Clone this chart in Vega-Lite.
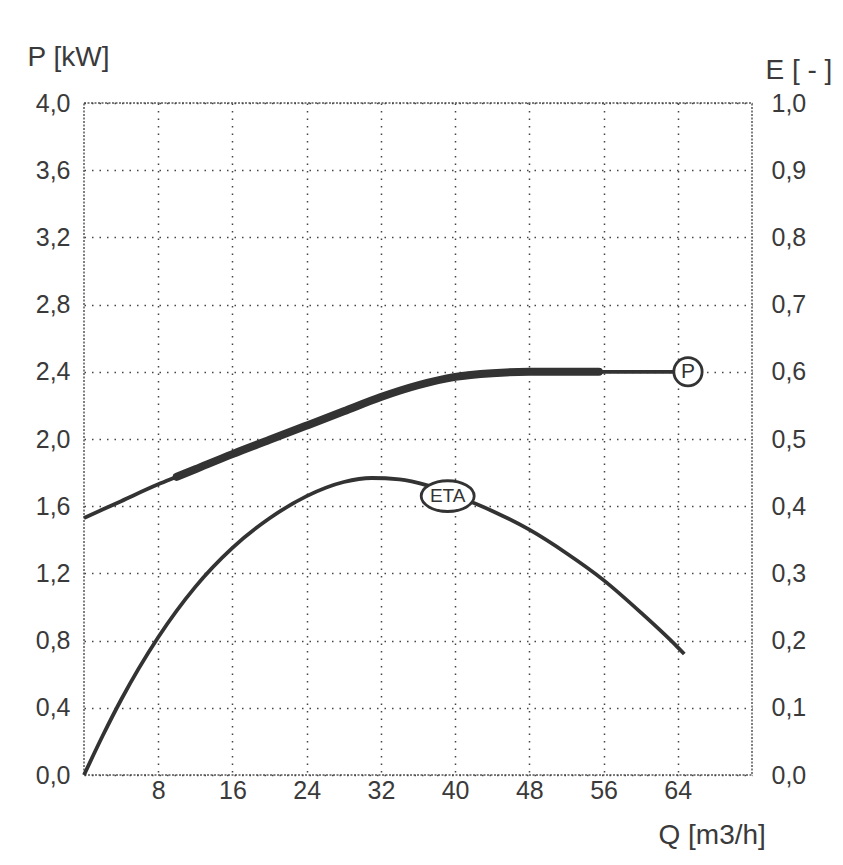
{
  "$schema": "https://vega.github.io/schema/vega-lite/v6.json",
  "width": 668,
  "height": 672,
  "autosize": {"type": "none"},
  "padding": {"left": 84, "top": 103, "right": 91, "bottom": 90},
  "background": "white",
  "config": {
    "view": {"stroke": "#555", "strokeWidth": 1.5, "strokeDash": [2, 1.5]},
    "axis": {
      "labelFont": "Liberation Sans",
      "titleFont": "Liberation Sans",
      "labelFontSize": 25,
      "titleFontSize": 28,
      "labelColor": "#3a3a3a",
      "titleColor": "#3a3a3a",
      "titleFontWeight": "normal",
      "ticks": false,
      "domain": false,
      "gridColor": "#444",
      "gridDash": [1.5, 6],
      "gridWidth": 1.5,
      "gridOpacity": 1,
      "labelFlush": false,
      "labelOverlap": false
    }
  },
  "datasets": {
    "power": [
      {"Q": 0, "P": 1.53},
      {"Q": 4, "P": 1.63},
      {"Q": 8, "P": 1.73},
      {"Q": 10, "P": 1.775},
      {"Q": 12, "P": 1.82},
      {"Q": 16, "P": 1.91},
      {"Q": 20, "P": 1.995},
      {"Q": 24, "P": 2.08},
      {"Q": 28, "P": 2.165},
      {"Q": 32, "P": 2.25},
      {"Q": 36, "P": 2.32},
      {"Q": 40, "P": 2.37},
      {"Q": 44, "P": 2.392},
      {"Q": 48, "P": 2.4},
      {"Q": 52, "P": 2.4},
      {"Q": 55.5, "P": 2.4},
      {"Q": 60, "P": 2.4},
      {"Q": 65.1, "P": 2.4}
    ],
    "eta": [
      {"Q": 0, "E": 0},
      {"Q": 2, "E": 0.058},
      {"Q": 4, "E": 0.112},
      {"Q": 8, "E": 0.205},
      {"Q": 12, "E": 0.28},
      {"Q": 16, "E": 0.338},
      {"Q": 20, "E": 0.382},
      {"Q": 24, "E": 0.415},
      {"Q": 28, "E": 0.436},
      {"Q": 31, "E": 0.442},
      {"Q": 34, "E": 0.44},
      {"Q": 37, "E": 0.431},
      {"Q": 40, "E": 0.416},
      {"Q": 44, "E": 0.393},
      {"Q": 48, "E": 0.365},
      {"Q": 52, "E": 0.33},
      {"Q": 56, "E": 0.29},
      {"Q": 60, "E": 0.242},
      {"Q": 64, "E": 0.19},
      {"Q": 64.7, "E": 0.18}
    ],
    "pmark": [{"Q": 65.1, "P": 2.4, "label": "P"}],
    "emark": [{"Q": 39.2, "E": 0.415, "label": "ETA"}]
  },
  "layer": [
    {
      "encoding": {
        "x": {
          "field": "Q", "type": "quantitative",
          "scale": {"domain": [0, 72], "nice": false},
          "axis": {
            "orient": "bottom",
            "values": [8, 16, 24, 32, 40, 48, 56, 64],
            "grid": true,
            "labelPadding": 3,
            "title": "Q [m3/h]",
            "titleAngle": 0,
            "titleAlign": "left",
            "titleBaseline": "middle",
            "titleX": 574,
            "titleY": 60
          }
        },
        "y": {
          "field": "P", "type": "quantitative",
          "scale": {"domain": [0, 4], "nice": false},
          "axis": {
            "orient": "left",
            "values": [0, 0.4, 0.8, 1.2, 1.6, 2.0, 2.4, 2.8, 3.2, 3.6, 4.0],
            "labelExpr": "replace(format(datum.value, '.1f'), '.', ',')",
            "grid": true,
            "labelPadding": 14,
            "title": "P [kW]",
            "titleAngle": 0,
            "titleAlign": "left",
            "titleBaseline": "middle",
            "titleX": -57,
            "titleY": -46
          }
        }
      },
      "layer": [
        {
          "data": {"name": "power"},
          "mark": {"type": "line", "interpolate": "monotone", "color": "#333", "strokeWidth": 3.8}
        },
        {
          "data": {"name": "power"},
          "transform": [{"filter": "datum.Q >= 10 && datum.Q <= 55.5"}],
          "mark": {"type": "line", "interpolate": "monotone", "color": "#333", "strokeWidth": 8, "strokeCap": "round"}
        },
        {
          "data": {"name": "pmark"},
          "mark": {"type": "point", "shape": "circle", "filled": true, "fill": "white", "stroke": "#333", "strokeWidth": 2.8, "size": 800, "opacity": 1}
        },
        {
          "data": {"name": "pmark"},
          "mark": {"type": "text", "font": "Liberation Sans", "fontSize": 21, "color": "#333", "align": "center", "baseline": "middle"},
          "encoding": {"text": {"field": "label"}}
        }
      ]
    },
    {
      "encoding": {
        "x": {
          "field": "Q", "type": "quantitative",
          "scale": {"domain": [0, 72], "nice": false},
          "axis": {
            "orient": "bottom",
            "values": [8, 16, 24, 32, 40, 48, 56, 64],
            "grid": true,
            "labelPadding": 3,
            "title": "Q [m3/h]",
            "titleAngle": 0,
            "titleAlign": "left",
            "titleBaseline": "middle",
            "titleX": 574,
            "titleY": 60
          }
        },
        "y": {
          "field": "E", "type": "quantitative",
          "scale": {"domain": [0, 1], "nice": false},
          "axis": {
            "orient": "right",
            "values": [0, 0.1, 0.2, 0.3, 0.4, 0.5, 0.6, 0.7, 0.8, 0.9, 1.0],
            "labelExpr": "replace(format(datum.value, '.1f'), '.', ',')",
            "grid": false,
            "labelPadding": 19,
            "title": "E [ - ]",
            "titleAngle": 0,
            "titleAlign": "left",
            "titleBaseline": "middle",
            "titleX": 13,
            "titleY": -33
          }
        }
      },
      "layer": [
        {
          "data": {"name": "eta"},
          "mark": {"type": "line", "interpolate": "monotone", "color": "#333", "strokeWidth": 3.8}
        },
        {
          "data": {"name": "emark"},
          "mark": {"type": "point", "shape": "M-1,0A1,0.58 0 1,1 1,0A1,0.58 0 1,1 -1,0Z", "filled": true, "fill": "white", "stroke": "#333", "strokeWidth": 2.8, "size": 2809, "opacity": 1}
        },
        {
          "data": {"name": "emark"},
          "mark": {"type": "text", "font": "Liberation Sans", "fontSize": 19, "color": "#333", "align": "center", "baseline": "middle"},
          "encoding": {"text": {"field": "label"}}
        }
      ]
    }
  ],
  "resolve": {"scale": {"y": "independent"}}
}
